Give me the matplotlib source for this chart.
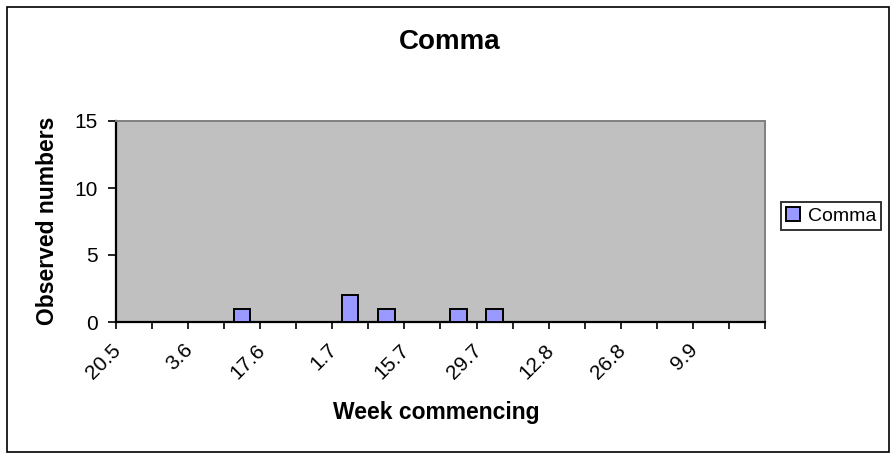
import matplotlib.pyplot as plt
import matplotlib.transforms as mtransforms
from matplotlib.patches import Rectangle
import numpy as np

plt.rcParams['font.family'] = ['Liberation Sans', 'DejaVu Sans']

# Week commencing (day.month) and observed counts
weeks = ['20.5', '27.5', '3.6', '10.6', '17.6', '24.6', '1.7', '8.7', '15.7',
         '22.7', '29.7', '5.8', '12.8', '19.8', '26.8', '2.9', '9.9', '16.9']
counts = [0, 0, 0, 1, 0, 0, 2, 1, 0, 1, 1, 0, 0, 0, 0, 0, 0, 0]
y_ticks = [0, 5, 10, 15]

fig = plt.figure(figsize=(8.93, 4.59), dpi=100)
ax = fig.add_axes([116 / 893, 1 - 322 / 459, (765 - 116) / 893, (322 - 121) / 459])
ax.set_facecolor('#C0C0C0')

x = np.arange(len(weeks))
ax.bar(x, counts, width=0.45, color='#9999FF', edgecolor='black',
       linewidth=1.4, label='Comma', zorder=3)

ax.set_xlim(-0.5, len(weeks) - 0.5)
ax.set_ylim(0, 15)
ax.set_yticks(y_ticks)
ax.set_yticklabels([str(v) for v in y_ticks], fontsize=15)
ax.tick_params(axis='y', length=6, width=1.2, pad=7)

# tick marks between categories, labels on every second category
ax.set_xticks(np.arange(len(weeks) + 1) - 0.5, minor=True)
ax.set_xticks(x[::2])
ax.set_xticklabels(weeks[::2], fontsize=15, rotation=45, ha='right',
                   va='center', rotation_mode='anchor')
ax.tick_params(axis='x', which='major', length=0, pad=18)
ax.tick_params(axis='x', which='minor', length=5, width=1.2)
shift = mtransforms.ScaledTranslation(-16 / 100, 0, fig.dpi_scale_trans)
for lbl in ax.get_xticklabels():
    lbl.set_transform(lbl.get_transform() + shift)

for side in ['left', 'bottom']:
    ax.spines[side].set_color('black')
    ax.spines[side].set_linewidth(1.6)
for side in ['top', 'right']:
    ax.spines[side].set_color('#808080')
    ax.spines[side].set_linewidth(1.4)

fig.text(450 / 893, 1 - 42 / 459, 'Comma', fontsize=20, fontweight='bold',
         ha='center', va='center')
fig.text(436 / 893, 1 - 413 / 459, 'Week commencing', fontsize=16.5,
         fontweight='bold', ha='center', va='center')
fig.text(48 / 893, 1 - 221 / 459, 'Observed numbers', fontsize=16.5,
         fontweight='bold', ha='center', va='center', rotation=90)

leg = fig.legend(loc='center', bbox_to_anchor=(831 / 893, 1 - 216 / 459),
                 fontsize=14, frameon=True, fancybox=False, edgecolor='black',
                 handlelength=0.7, handleheight=0.7, handletextpad=0.4,
                 borderpad=0.25, borderaxespad=0)
leg.get_frame().set_linewidth(1.4)

fig.patches.append(Rectangle((7 / 893, 1 - 452 / 459), (889 - 7) / 893,
                             (452 - 7) / 459, transform=fig.transFigure,
                             fill=False, edgecolor='black', linewidth=1.2))

fig.savefig('out.png', dpi=100)
